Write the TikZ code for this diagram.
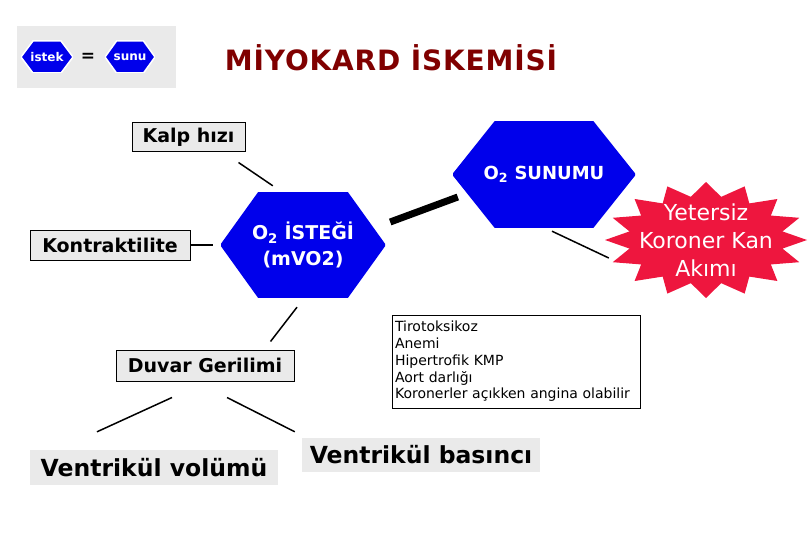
\documentclass[tikz,border=0pt]{standalone}
\usepackage{fontspec}
\setmainfont{DejaVu Sans}
\usepackage{tikz}
\usetikzlibrary{shapes,calc,positioning}
\definecolor{hexblue}{RGB}{0,0,235}
\definecolor{titlered}{RGB}{128,0,0}
\definecolor{starred}{RGB}{238,22,62}
\definecolor{boxgray}{RGB}{234,234,234}
\def\ppb{path picture bounding box}

\begin{document}
\begin{tikzpicture}[x=1pt,y=-1pt]
\tikzstyle{hex}=[inner sep=0pt,text=white,align=center,font=\bfseries,
  path picture={\filldraw[fill=hexblue,draw=#1,line width=1.5pt] (\ppb.west) -- ($(\ppb.north west)!.23!(\ppb.north east)$) -- ($(\ppb.north east)!.23!(\ppb.north west)$) -- (\ppb.east) -- ($(\ppb.south east)!.23!(\ppb.south west)$) -- ($(\ppb.south west)!.23!(\ppb.south east)$) -- cycle;}]
\tikzstyle{gb}=[draw,line width=1pt,fill=boxgray,inner sep=0pt,font=\fontsize{19}{22}\selectfont\bfseries]
\tikzstyle{vb}=[fill=boxgray,inner sep=0pt,font=\fontsize{23.5}{26}\selectfont\bfseries]
\tikzstyle{ln}=[line width=1.5pt]
\useasboundingbox (0,0) rectangle (810,540);
\node[fill=boxgray,minimum width=159,minimum height=62] (key) at (96.5,57) {};
\node[hex=white,minimum width=52,minimum height=32,font=\fontsize{12}{14}\selectfont\bfseries] (istek) at (47,57) {istek};
\node[font=\fontsize{17}{20}\selectfont\bfseries] (eq) at (88,57) {=};
\node[hex=white,minimum width=50,minimum height=32,font=\fontsize{12}{14}\selectfont\bfseries] (sunu) at (130,57) {sunu};
\node[text=titlered,font=\fontsize{28}{32}\selectfont\bfseries\addfontfeature{LetterSpace=3}] (title) at (391,58) {MİYOKARD İSKEMİSİ};
\node[gb,minimum width=113,minimum height=29] (kalp) at (188.5,137.5) {Kalp hızı};
\node[gb,minimum width=160,minimum height=30] (kontr) at (110,245) {Kontraktilite};
\node[hex=hexblue,minimum width=164,minimum height=105,font=\fontsize{19}{26}\selectfont\bfseries] (isteg) at (303,245) {O\textsubscript{2} İSTEĞİ\\(mVO2)};
\node[hex=hexblue,minimum width=182,minimum height=105,font=\fontsize{18}{22}\selectfont\bfseries] (sunum) at (544,174.5) {O\textsubscript{2} SUNUMU};
\node[minimum width=204,minimum height=118,inner sep=0pt,text=white,align=center,font=\fontsize{22}{28}\selectfont,
  path picture={\fill[starred] ($(\ppb.center)+(90:101 and 58)$) foreach \a in {0,...,15} {-- ($(\ppb.center)+({90+\a*22.5+11.25}:78 and 44)$) -- ($(\ppb.center)+({90+(\a+1)*22.5}:101 and 58)$)} -- cycle;}] (star) at (706,240) {Yetersiz\\Koroner Kan\\Akımı};
\node[gb,minimum width=178,minimum height=31] (duvar) at (205,365.5) {Duvar Gerilimi};
\node[draw,line width=1pt,minimum width=248,minimum height=93,inner sep=3pt,text width=242,align=left,font=\fontsize{14}{16.7}\selectfont] (list) at (516,361.5) {Tirotoksikoz\\Anemi\\Hipertrofik KMP\\Aort darlığı\\Koronerler açıkken angina olabilir};
\node[vb,minimum width=248,minimum height=35] (vvol) at (154,467.5) {Ventrikül volümü};
\node[vb,minimum width=238,minimum height=34] (vbas) at (421,455) {Ventrikül basıncı};
\draw[ln] ([shift={(-7,10)}]kalp.south east) -- ([shift={(52,-6.5)}]isteg.north west);
\draw[ln] (kontr.east) -- ([shift={(-8,0)}]isteg.west);
\draw[line width=7pt] ([shift={(5,-23)}]isteg.east) -- ([shift={(5,22.5)}]sunum.west);
\draw[ln] ([shift={(8,4)}]sunum.south) -- ([shift={(5,18)}]star.west);
\draw[ln] ([shift={(-6,9.5)}]isteg.south) -- ([shift={(-24,-8)}]duvar.north east);
\draw[ln] ([shift={(-33,16)}]duvar.south) -- ([shift={(-57,-18)}]vvol.north);
\draw[ln] ([shift={(22,16)}]duvar.south) -- ([shift={(-7,-6)}]vbas.north west);
\end{tikzpicture}
\end{document}
